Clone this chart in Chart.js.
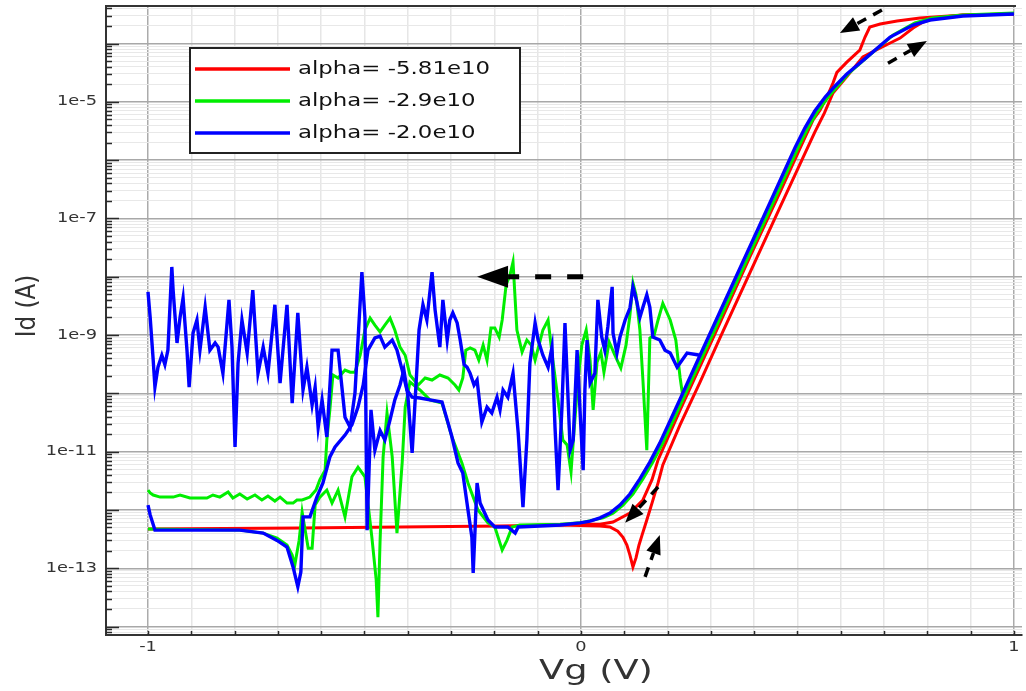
<!DOCTYPE html>
<html>
<head>
<meta charset="utf-8">
<title>Id-Vg</title>
<script src="https://cdn.jsdelivr.net/npm/chart.js@4.4.1/dist/chart.umd.min.js"></script>
<style>
html, body { margin: 0; padding: 0; background: #fff; }
#wrap { width: 1026px; height: 691px; }
</style>
</head>
<body>
<div id="wrap"><canvas id="idvgChart" width="1026" height="691"></canvas></div>
<script>
// 转移特性 Id-Vg，正向/反向双扫

// 图例与颜色
const seriesLabels = ['alpha= -5.81e10', 'alpha= -2.9e10', 'alpha= -2.0e10'];
const seriesColors = ['#ff0000', '#00ee00', '#0000ff'];

// 坐标轴范围与刻度文字
const vgRange = [-1.097, 1.0185];
const idRange = [7.15e-15, 4.4e-4];
const vgTickLabels = ['-1', '0', '1'];
const idTickLabels = ['1e-13', '1e-11', '1e-9', '1e-7', '1e-5'];

// alpha = -5.81e10
const redFwdVg = [-1.0, -0.649, -0.418, -0.187, -0.048, 0.044, 0.067, 0.085, 0.097, 0.106, 0.113, 0.120, 0.127, 0.134, 0.141, 0.152, 0.164, 0.178, 0.189, 0.229, 0.275, 0.321, 0.390, 0.460, 0.506, 0.540, 0.562, 0.582, 0.614, 0.651, 0.691, 0.714, 0.737, 0.767, 0.790, 0.818, 0.882, 1.0];
const redFwdId = [4.7e-13, 4.9e-13, 5.1e-13, 5.3e-13, 5.5e-13, 5.3e-13, 5.1e-13, 4.3e-13, 3.4e-13, 2.5e-13, 1.68e-13, 1.05e-13, 1.5e-13, 2.5e-13, 3.7e-13, 6.7e-13, 1.31e-12, 2.9e-12, 5.9e-12, 2.9e-11, 1.56e-10, 8.9e-10, 1.16e-8, 1.57e-7, 8.6e-7, 3.03e-6, 6.4e-6, 1.42e-5, 2.7e-5, 5.9e-5, 8.4e-5, 1.02e-4, 1.24e-4, 1.84e-4, 2.34e-4, 2.74e-4, 3.08e-4, 3.21e-4];
const redRevVg = [-0.002, 0.044, 0.074, 0.113, 0.143, 0.164, 0.178, 0.229, 0.275, 0.321, 0.390, 0.460, 0.506, 0.536, 0.552, 0.568, 0.582, 0.591, 0.614, 0.644, 0.656, 0.667, 0.691, 0.730, 0.783, 0.882, 1.0];
const redRevId = [5.7e-13, 5.7e-13, 6.2e-13, 8.8e-13, 1.48e-12, 3.3e-12, 7.2e-12, 5.2e-11, 2.9e-10, 1.61e-9, 2.18e-8, 2.84e-7, 1.61e-6, 4.9e-6, 7.2e-6, 1.21e-5, 2.1e-5, 3.2e-5, 4.8e-5, 7.7e-5, 1.29e-4, 1.92e-4, 2.16e-4, 2.43e-4, 2.74e-4, 3.08e-4, 3.21e-4];

// alpha = -2.9e10
const greenFwdVg = [-1.0, -0.788, -0.734, -0.702, -0.679, -0.667, -0.661, -0.651, -0.644, -0.637, -0.630, -0.621, -0.614, -0.603, -0.587, -0.575, -0.561, -0.545, -0.529, -0.515, -0.499, -0.483, -0.473, -0.469, -0.464, -0.457, -0.448, -0.436, -0.425, -0.413, -0.406, -0.395, -0.372, -0.349, -0.321, -0.298, -0.275, -0.261, -0.238, -0.215, -0.199, -0.182, -0.171, -0.159, -0.141, -0.048, -0.002, 0.051, 0.074, 0.097, 0.120, 0.143, 0.166, 0.189, 0.236, 0.282, 0.328, 0.420, 0.501, 0.524, 0.547, 0.571, 0.594, 0.621, 0.667, 0.721, 0.771, 0.811, 0.882, 1.0];
const greenFwdId = [4.7e-13, 4.5e-13, 4.0e-13, 3.3e-13, 2.5e-13, 1.68e-13, 1.13e-13, 3.0e-13, 9.2e-13, 4.5e-13, 2.2e-13, 2.2e-13, 1.21e-12, 1.66e-12, 2.19e-12, 1.31e-12, 2.19e-12, 7.6e-13, 3.7e-12, 5.4e-12, 3.7e-12, 3.4e-13, 6.3e-14, 1.45e-14, 3.0e-13, 8.1e-12, 4.6e-11, 8.1e-12, 4.0e-13, 6.4e-12, 5.8e-11, 1.56e-10, 1.14e-10, 7.7e-11, 6.8e-11, 1.78e-11, 6.4e-12, 2.9e-12, 9.95e-13, 6.0e-13, 5.1e-13, 2.05e-13, 3.0e-13, 5.1e-13, 5.5e-13, 5.7e-13, 6.0e-13, 7.3e-13, 8.8e-13, 1.21e-12, 1.87e-12, 3.4e-12, 6.6e-12, 1.40e-11, 8.0e-11, 4.5e-10, 2.5e-9, 7.7e-8, 1.61e-6, 3.55e-6, 6.95e-6, 1.21e-5, 1.9e-5, 3.2e-5, 6.4e-5, 1.40e-4, 2.25e-4, 2.74e-4, 3.08e-4, 3.33e-4];
const greenRevVg = [-1.0, -0.995, -0.988, -0.972, -0.942, -0.926, -0.903, -0.864, -0.850, -0.834, -0.815, -0.804, -0.788, -0.771, -0.753, -0.737, -0.723, -0.707, -0.695, -0.679, -0.665, -0.656, -0.644, -0.626, -0.612, -0.603, -0.591, -0.587, -0.580, -0.573, -0.561, -0.545, -0.533, -0.522, -0.510, -0.499, -0.487, -0.476, -0.464, -0.453, -0.441, -0.430, -0.418, -0.406, -0.395, -0.376, -0.360, -0.344, -0.326, -0.307, -0.291, -0.282, -0.273, -0.266, -0.256, -0.245, -0.236, -0.226, -0.217, -0.208, -0.199, -0.189, -0.182, -0.173, -0.164, -0.157, -0.148, -0.136, -0.125, -0.115, -0.106, -0.097, -0.088, -0.076, -0.065, -0.053, -0.042, -0.032, -0.023, -0.016, -0.007, 0.002, 0.012, 0.021, 0.028, 0.037, 0.046, 0.053, 0.065, 0.079, 0.092, 0.104, 0.113, 0.120, 0.127, 0.136, 0.143, 0.152, 0.159, 0.169, 0.178, 0.189, 0.206, 0.219, 0.229, 0.236];
const greenRevId = [2.19e-12, 1.95e-12, 1.80e-12, 1.66e-12, 1.66e-12, 1.80e-12, 1.60e-12, 1.60e-12, 1.80e-12, 1.66e-12, 2.03e-12, 1.60e-12, 1.87e-12, 1.54e-12, 1.80e-12, 1.48e-12, 1.73e-12, 1.42e-12, 1.66e-12, 1.31e-12, 1.31e-12, 1.48e-12, 1.48e-12, 1.66e-12, 2.19e-12, 3.3e-12, 4.8e-12, 1.58e-11, 5.2e-11, 2.06e-10, 1.83e-10, 2.5e-10, 2.3e-10, 2.3e-10, 4.5e-10, 1.22e-9, 1.95e-9, 1.48e-9, 1.13e-9, 1.48e-9, 1.95e-9, 1.22e-9, 6.2e-10, 4.5e-10, 2.06e-10, 1.39e-10, 1.83e-10, 1.69e-10, 2.06e-10, 1.83e-10, 1.39e-10, 1.14e-10, 1.83e-10, 5.5e-10, 6.0e-10, 5.5e-10, 3.7e-10, 6.7e-10, 3.7e-10, 1.32e-9, 1.32e-9, 9.2e-10, 1.81e-9, 7.2e-9, 1.07e-8, 1.79e-8, 1.22e-9, 5.1e-10, 8.2e-10, 6.7e-10, 3.7e-10, 6.7e-10, 1.22e-9, 1.81e-9, 3.7e-10, 7.7e-11, 1.58e-11, 1.30e-11, 4.5e-12, 2.3e-11, 1.69e-10, 6.7e-10, 1.22e-9, 3.7e-10, 5.2e-11, 3.4e-10, 5.1e-10, 2.3e-10, 7.6e-10, 4.4e-10, 2.7e-10, 6.7e-10, 2.2e-9, 7.8e-9, 4.9e-9, 1.22e-9, 1.69e-10, 1.06e-11, 8.9e-10, 1.0e-9, 1.81e-9, 3.5e-9, 1.81e-9, 8.2e-10, 1.83e-10, 8.0e-11];

// alpha = -2.0e10
const blueFwdVg = [-1.0, -0.995, -0.984, -0.880, -0.788, -0.734, -0.702, -0.679, -0.665, -0.654, -0.647, -0.642, -0.626, -0.610, -0.596, -0.580, -0.568, -0.545, -0.529, -0.515, -0.503, -0.492, -0.476, -0.464, -0.453, -0.436, -0.425, -0.413, -0.402, -0.390, -0.372, -0.349, -0.321, -0.309, -0.298, -0.284, -0.273, -0.261, -0.252, -0.249, -0.240, -0.233, -0.215, -0.199, -0.169, -0.152, -0.145, -0.095, -0.048, -0.002, 0.021, 0.044, 0.067, 0.090, 0.113, 0.136, 0.159, 0.182, 0.229, 0.275, 0.321, 0.413, 0.494, 0.517, 0.540, 0.564, 0.587, 0.614, 0.661, 0.714, 0.767, 0.806, 0.882, 1.0];
const blueFwdId = [1.21e-12, 8.2e-13, 4.5e-13, 4.5e-13, 4.5e-13, 4.0e-13, 3.0e-13, 2.3e-13, 1.05e-13, 4.8e-14, 8.6e-14, 7.6e-13, 7.6e-13, 1.66e-12, 2.9e-12, 8.1e-12, 1.2e-11, 1.92e-11, 2.9e-11, 5.8e-11, 1.39e-10, 5.5e-10, 8.9e-10, 9.6e-10, 6.2e-10, 8.2e-10, 5.5e-10, 2.5e-10, 1.14e-10, 8.6e-11, 8.3e-11, 7.7e-11, 7.1e-11, 3.5e-11, 1.78e-11, 6.4e-12, 4.3e-12, 9.95e-13, 3.4e-13, 8.3e-14, 2.9e-12, 1.31e-12, 6.7e-13, 5.1e-13, 5.1e-13, 4.0e-13, 5.1e-13, 5.3e-13, 5.5e-13, 6.0e-13, 6.4e-13, 7.3e-13, 8.8e-13, 1.21e-12, 1.87e-12, 3.4e-12, 6.6e-12, 1.40e-11, 8.0e-11, 4.5e-10, 2.5e-9, 7.7e-8, 1.61e-6, 3.55e-6, 6.95e-6, 1.21e-5, 1.87e-5, 3.0e-5, 5.9e-5, 1.29e-4, 2.07e-4, 2.53e-4, 2.96e-4, 3.21e-4];
const blueRevVg = [-1.0, -0.995, -0.988, -0.984, -0.977, -0.968, -0.961, -0.954, -0.945, -0.942, -0.933, -0.926, -0.919, -0.910, -0.905, -0.896, -0.887, -0.880, -0.868, -0.857, -0.845, -0.838, -0.827, -0.813, -0.806, -0.799, -0.792, -0.783, -0.771, -0.758, -0.746, -0.734, -0.723, -0.707, -0.695, -0.679, -0.667, -0.654, -0.642, -0.633, -0.621, -0.614, -0.607, -0.598, -0.587, -0.575, -0.561, -0.545, -0.533, -0.522, -0.506, -0.499, -0.494, -0.485, -0.476, -0.464, -0.453, -0.441, -0.430, -0.418, -0.409, -0.400, -0.390, -0.383, -0.374, -0.365, -0.356, -0.344, -0.337, -0.326, -0.319, -0.309, -0.303, -0.296, -0.286, -0.279, -0.270, -0.263, -0.256, -0.247, -0.240, -0.229, -0.217, -0.206, -0.194, -0.187, -0.180, -0.169, -0.157, -0.145, -0.134, -0.125, -0.118, -0.106, -0.099, -0.088, -0.076, -0.067, -0.060, -0.053, -0.044, -0.037, -0.025, -0.018, -0.009, -0.002, 0.005, 0.009, 0.014, 0.021, 0.032, 0.039, 0.048, 0.055, 0.062, 0.072, 0.074, 0.083, 0.090, 0.102, 0.113, 0.120, 0.129, 0.136, 0.143, 0.152, 0.159, 0.166, 0.182, 0.194, 0.206, 0.222, 0.245, 0.275];
const blueRevId = [5.5e-9, 2.0e-9, 3.7e-10, 1.28e-10, 2.8e-10, 4.5e-10, 3.1e-10, 5.5e-10, 1.47e-8, 5.9e-9, 7.3e-10, 2.0e-9, 4.3e-9, 5.5e-10, 1.28e-10, 1.08e-9, 1.81e-9, 5.5e-10, 3.0e-9, 5.5e-10, 7.3e-10, 6.2e-10, 2.2e-10, 4.0e-9, 6.2e-10, 1.2e-11, 3.3e-10, 1.81e-9, 4.9e-10, 5.9e-9, 2.2e-10, 6.2e-10, 2.2e-10, 3.3e-9, 1.5e-10, 3.3e-9, 6.8e-11, 2.4e-9, 1.14e-10, 2.8e-10, 6.3e-11, 1.28e-10, 2.6e-11, 7.7e-11, 1.78e-11, 5.5e-10, 5.5e-10, 3.9e-11, 2.6e-11, 1.01e-10, 1.2e-8, 2.0e-9, 4.5e-13, 5.2e-11, 1.06e-11, 2.3e-11, 1.58e-11, 3.5e-11, 7.7e-11, 1.39e-10, 2.5e-10, 9.4e-11, 9.5e-12, 7.7e-11, 1.22e-9, 3.3e-9, 1.81e-9, 1.2e-8, 2.7e-9, 6.2e-10, 4.0e-9, 8.2e-10, 1.81e-9, 2.4e-9, 1.61e-9, 8.2e-10, 3.1e-10, 2.8e-10, 2.2e-10, 1.39e-10, 1.69e-10, 3.2e-11, 5.8e-11, 4.6e-11, 8.6e-11, 5.2e-11, 1.14e-10, 8.6e-11, 2.2e-10, 2.1e-11, 1.12e-12, 1.58e-11, 3.3e-10, 1.61e-9, 8.2e-10, 4.5e-10, 2.8e-10, 6.2e-10, 2.6e-11, 2.19e-12, 5.8e-11, 1.61e-9, 1.06e-11, 1.58e-11, 5.5e-10, 4.6e-11, 4.8e-12, 1.14e-10, 8.2e-10, 1.5e-10, 2.2e-10, 4.0e-9, 9.2e-10, 5.5e-10, 1.37e-9, 6.7e-9, 1.08e-9, 4.9e-10, 9.2e-10, 1.81e-9, 2.9e-9, 6.7e-9, 3.7e-9, 2.0e-9, 3.0e-9, 4.9e-9, 3.0e-9, 9.2e-10, 8.2e-10, 5.5e-10, 4.9e-10, 2.8e-10, 4.9e-10, 4.5e-10];

// 扫描方向箭头（数据坐标）
const sweepArrows = [
    { from: [0.005, 1.0e-8], to: [-0.240, 1.0e-8], big: true },
    { from: [0.695, 3.75e-4], to: [0.598, 1.51e-4] },
    { from: [0.709, 4.6e-5], to: [0.799, 1.10e-4] },
    { from: [0.178, 2.47e-12], to: [0.102, 6.0e-13] },
    { from: [0.148, 7.1e-14], to: [0.182, 3.7e-13] }
];

const FONT = '"DejaVu Sans", "Liberation Sans", sans-serif';
const TEXT_STRETCH = 1.27;

// 把两个数组拼成散点
function toPoints(vg, id) {
    const n = Math.min(vg.length, id.length);
    const pts = [];
    for (let i = 0; i < n; i++) pts.push({ x: vg[i], y: id[i] });
    return pts;
}

function isDecade(v) {
    const e = Math.log10(v);
    return Math.abs(e - Math.round(e)) < 1e-6;
}

function makeDataset(idx, vg, id, withLabel) {
    return {
        label: withLabel ? seriesLabels[idx] : '',
        data: toPoints(vg, id),
        showLine: true,
        borderColor: seriesColors[idx],
        backgroundColor: seriesColors[idx],
        borderWidth: idx === 2 ? 3.4 : 3,
        pointRadius: 0,
        tension: 0,
        fill: false,
        order: 3 - idx
    };
}

// 横向拉宽的文字
function stretchText(ctx, text, x, y, align, sx) {
    ctx.save();
    ctx.translate(x, y);
    ctx.scale(sx, 1);
    ctx.textAlign = align;
    ctx.fillText(text, 0, 0);
    ctx.restore();
}

// 内侧刻度线与上边框
const innerTicks = {
    id: 'innerTicks',
    beforeDatasetsDraw(chart) {
        const { ctx, chartArea: a, scales } = chart;
        const xs = scales.x, ys = scales.y;
        ctx.save();
        ctx.strokeStyle = '#2a2a2a';
        ctx.lineWidth = 1.5;
        ys.ticks.forEach(t => {
            const py = Math.round(ys.getPixelForValue(t.value)) + 0.5;
            const len = isDecade(t.value) ? 13 : 6;
            ctx.beginPath();
            ctx.moveTo(a.left, py);
            ctx.lineTo(a.left + len, py);
            ctx.stroke();
        });
        xs.ticks.forEach(t => {
            const px = Math.round(xs.getPixelForValue(t.value)) + 0.5;
            ctx.beginPath();
            ctx.moveTo(px, a.bottom);
            ctx.lineTo(px, a.bottom - 4);
            ctx.stroke();
        });
        ctx.lineWidth = 2;
        ctx.strokeStyle = '#333';
        ctx.beginPath();
        ctx.moveTo(a.left, a.top);
        ctx.lineTo(xs.getPixelForValue(1) + 2, a.top);
        ctx.stroke();
        ctx.restore();
    }
};

// 箭头
function drawArrow(ctx, x0, y0, x1, y1, big) {
    const ang = Math.atan2(y1 - y0, x1 - x0);
    const headLen = big ? 31 : 19;
    const headHalf = big ? 11 : 7.5;
    const bx = x1 - headLen * Math.cos(ang);
    const by = y1 - headLen * Math.sin(ang);
    ctx.setLineDash(big ? [16, 16] : [10, 8]);
    ctx.lineWidth = big ? 5 : 3.5;
    ctx.beginPath();
    ctx.moveTo(x0, y0);
    ctx.lineTo(bx, by);
    ctx.stroke();
    ctx.setLineDash([]);
    ctx.beginPath();
    ctx.moveTo(x1, y1);
    ctx.lineTo(bx + headHalf * Math.sin(ang), by - headHalf * Math.cos(ang));
    ctx.lineTo(bx - headHalf * Math.sin(ang), by + headHalf * Math.cos(ang));
    ctx.closePath();
    ctx.fill();
}

const arrowLayer = {
    id: 'arrowLayer',
    afterDatasetsDraw(chart) {
        const { ctx, scales } = chart;
        ctx.save();
        ctx.strokeStyle = '#000';
        ctx.fillStyle = '#000';
        ctx.lineCap = 'butt';
        sweepArrows.forEach(a => {
            drawArrow(ctx,
                scales.x.getPixelForValue(a.from[0]), scales.y.getPixelForValue(a.from[1]),
                scales.x.getPixelForValue(a.to[0]), scales.y.getPixelForValue(a.to[1]),
                !!a.big);
        });
        ctx.restore();
    }
};

// 带边框的图例
const boxLegend = {
    id: 'boxLegend',
    afterDatasetsDraw(chart) {
        const ctx = chart.ctx;
        const box = { left: 190, top: 48, right: 520, bottom: 153 };
        ctx.save();
        ctx.fillStyle = '#fff';
        ctx.fillRect(box.left, box.top, box.right - box.left, box.bottom - box.top);
        ctx.strokeStyle = '#222';
        ctx.lineWidth = 2;
        ctx.strokeRect(box.left, box.top, box.right - box.left, box.bottom - box.top);
        const items = chart.data.datasets.filter(d => d.label);
        ctx.font = '18px ' + FONT;
        ctx.textBaseline = 'middle';
        items.forEach((d, i) => {
            const y = 69 + i * 32;
            ctx.strokeStyle = d.borderColor;
            ctx.lineWidth = 3.5;
            ctx.beginPath();
            ctx.moveTo(195, y);
            ctx.lineTo(290, y);
            ctx.stroke();
            ctx.fillStyle = '#111';
            stretchText(ctx, d.label, 298, y, 'left', TEXT_STRETCH);
        });
        ctx.restore();
    }
};

// 刻度文字和坐标轴标题
const axisText = {
    id: 'axisText',
    afterDraw(chart) {
        const { ctx, chartArea: a, scales } = chart;
        ctx.save();
        ctx.fillStyle = '#333';
        ctx.textBaseline = 'middle';
        ctx.font = '14px ' + FONT;
        idTickLabels.forEach(s => {
            stretchText(ctx, s, a.left - 9, scales.y.getPixelForValue(Number(s)), 'right', TEXT_STRETCH);
        });
        vgTickLabels.forEach(s => {
            stretchText(ctx, s, scales.x.getPixelForValue(Number(s)), a.bottom + 12, 'center', TEXT_STRETCH);
        });
        ctx.font = '27px ' + FONT;
        stretchText(ctx, 'Vg (V)', 596, 672, 'center', 1.36);
        ctx.save();
        ctx.translate(28, 306);
        ctx.scale(1.15, 1);
        ctx.rotate(-Math.PI / 2);
        ctx.font = '23px ' + FONT;
        ctx.textAlign = 'center';
        ctx.fillText('Id (A)', 0, 0);
        ctx.restore();
        ctx.restore();
    }
};

const datasets = [
    makeDataset(0, redFwdVg, redFwdId, true),
    makeDataset(0, redRevVg, redRevId, false),
    makeDataset(1, greenFwdVg, greenFwdId, true),
    makeDataset(1, greenRevVg, greenRevId, false),
    makeDataset(2, blueFwdVg, blueFwdId, true),
    makeDataset(2, blueRevVg, blueRevId, false)
];

new Chart(document.getElementById('idvgChart'), {
    type: 'scatter',
    data: { datasets: datasets },
    options: {
        responsive: false,
        animation: false,
        devicePixelRatio: 1,
        layout: { padding: { left: 106, top: 6, right: 4, bottom: 56 } },
        plugins: {
            legend: { display: false },
            tooltip: { enabled: false }
        },
        scales: {
            x: {
                type: 'linear',
                min: vgRange[0],
                max: vgRange[1],
                bounds: 'data',
                afterFit: s => { s.height = 0; },
                afterBuildTicks: s => {
                    const ticks = [];
                    for (let i = -10; i <= 10; i++) ticks.push({ value: i / 10 });
                    s.ticks = ticks;
                },
                ticks: { display: false, autoSkip: false },
                grid: {
                    drawTicks: false,
                    color: c => (c.tick && Math.abs(c.tick.value - Math.round(c.tick.value)) < 1e-9) ? '#ababab' : '#e6e6e6',
                    lineWidth: 1.5
                },
                border: { display: true, color: '#333', width: 2 }
            },
            y: {
                type: 'logarithmic',
                min: idRange[0],
                max: idRange[1],
                bounds: 'data',
                afterFit: s => { s.width = 0; },
                afterBuildTicks: s => {
                    const ticks = [];
                    for (let e = -15; e <= -3; e++) {
                        for (let m = 1; m <= 9; m++) {
                            const v = m * Math.pow(10, e);
                            if (v > s.min && v < s.max) ticks.push({ value: v });
                        }
                    }
                    s.ticks = ticks;
                },
                ticks: { display: false, autoSkip: false },
                grid: {
                    drawTicks: false,
                    color: c => (c.tick && isDecade(c.tick.value)) ? '#a8a8a8' : '#e8e8e8',
                    lineWidth: c => (c.tick && isDecade(c.tick.value)) ? 1.4 : 1
                },
                border: { display: true, color: '#333', width: 2 }
            }
        }
    },
    plugins: [innerTicks, arrowLayer, boxLegend, axisText]
});
</script>
</body>
</html>
